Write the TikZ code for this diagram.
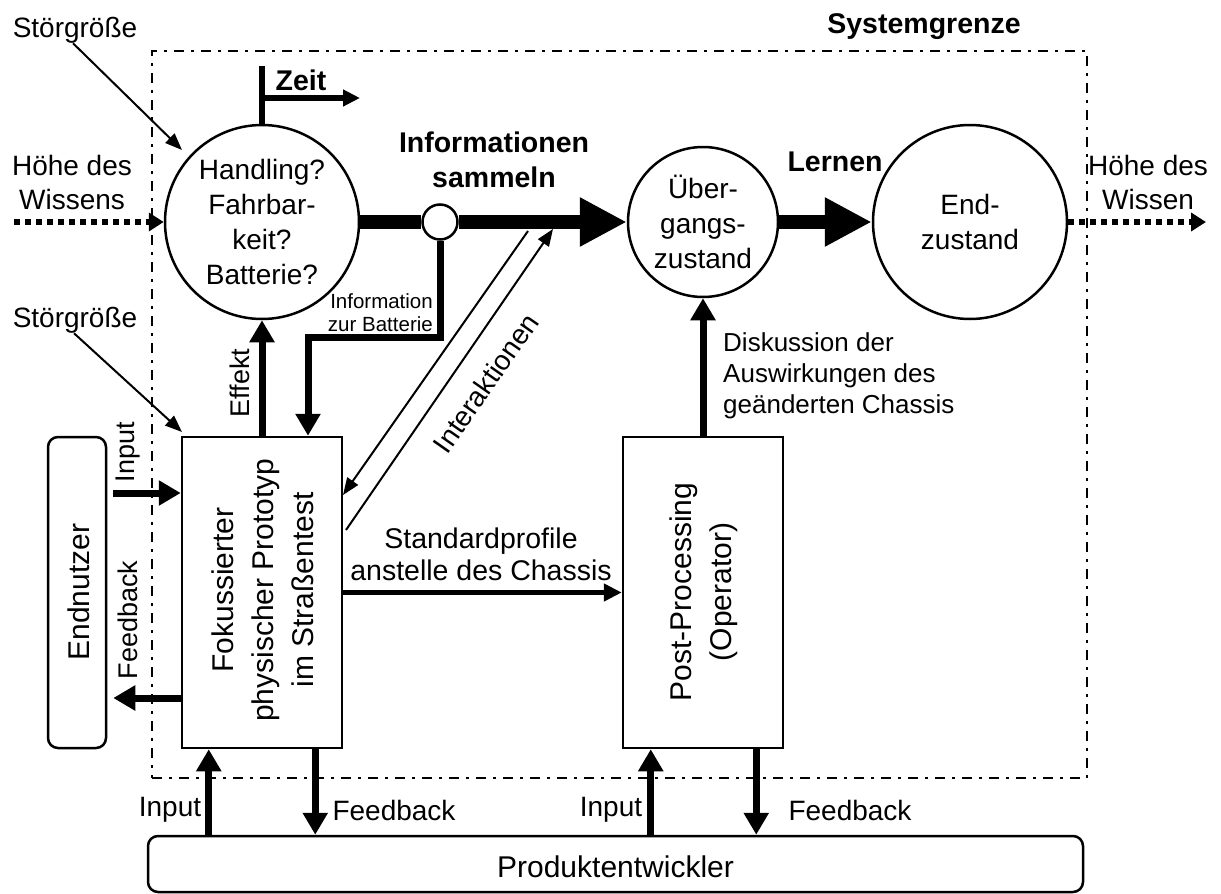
\documentclass[tikz,border=0pt]{standalone}
\usepackage{fontspec}
\setmainfont{Liberation Sans}
\usetikzlibrary{arrows.meta}

\tikzset{
  txt/.style={font=\fontsize{28}{34}\selectfont, inner sep=0pt, align=center},
  btxt/.style={txt, font=\fontsize{28.5}{35}\selectfont\bfseries},
  ctxt/.style={font=\fontsize{28}{35}\selectfont, align=center},
  vtxt/.style={font=\fontsize{30}{40}\selectfont, inner sep=0pt, align=center, rotate=90},
  vlbl/.style={txt, font=\fontsize{27}{32}\selectfont, rotate=90},
  smalltxt/.style={font=\fontsize{20.5}{23}\selectfont, inner sep=0pt, align=right},
  ring/.style={draw, circle, line width=2.5pt, inner sep=0pt, fill=white},
  blockbox/.style={draw, line width=2.5pt, minimum width=160pt, minimum height=311pt, inner sep=0pt},
  roundbox/.style={draw, line width=2.5pt, rounded corners=10pt, inner sep=0pt},
  heavy/.style={line width=7pt, line join=miter, -{Triangle[length=22pt,width=24pt]}},
  medium/.style={line width=5pt, -{Triangle[length=18pt,width=17pt]}},
  huge/.style={line width=14pt, -{Triangle[length=47pt,width=46pt]}},
  slim/.style={line width=2pt, -{Triangle[length=17pt,width=13pt]}},
  knowledge/.style={line width=6pt, dash pattern=on 6pt off 5pt, -{Triangle[length=15pt,width=18pt]}},
  boundary/.style={draw, line width=2.5pt, dash pattern=on 10pt off 7pt on 3pt off 7pt, inner sep=0pt}
}

\begin{document}
\begin{tikzpicture}[x=1pt, y=-1pt]
\useasboundingbox (0,0) rectangle (1221,894);

% system boundary
\node[boundary, minimum width=935pt, minimum height=727pt] (sysb) at (619.5,414.5) {};
\node[btxt] (sysbl) at (924,27) {Systemgrenze};

% states
\node[ring, minimum size=194pt, ctxt] (c1) at (262,222) {Handling?\\Fahrbar-\\keit?\\Batterie?};
\node[ring, minimum size=150pt, ctxt] (c2) at (703,222) {Über-\\gangs-\\zustand};
\node[ring, minimum size=194pt, ctxt] (c3) at (970,222) {End-\\zustand};
\node[ring, minimum size=35pt] (sc) at (440,222) {};

% blocks
\node[blockbox] (proto) at (262,592.5) {};
\node[vtxt] (protoT) at (263,590) {Fokussierter\\physischer Prototyp\\im Straßentest};
\node[blockbox] (post) at (703,592.5) {};
\node[vtxt] (postT) at (704,592) {Post-Processing\\(Operator)};
\node[roundbox, minimum width=58pt, minimum height=311pt] (user) at (77,592.5) {};
\node[vtxt] (userT) at (79,592) {Endnutzer};
\node[roundbox, minimum width=935pt, minimum height=56pt] (dev) at (615.5,864) {};
\node[txt, font=\fontsize{30}{34}\selectfont] (devT) at (615.5,867) {Produktentwickler};

% main knowledge flow
\draw[line width=14pt] (c1.east) -- (sc.west);
\draw[huge] (sc.east) -- (c2.west);
\draw[huge] (c2.east) -- (c3.west);
\node[btxt] (infoL) at (494,160) {Informationen\\sammeln};
\node[btxt] (lernL) at (835,162) {Lernen};

% knowledge level in and out
\coordinate (wIn) at (14,222);
\coordinate (wOut) at (1206,222);
\draw[knowledge] (wIn) -- (c1.west);
\draw[knowledge] (c3.east) -- (wOut);
\node[txt] (wInL) at (72,182) {Höhe des\\Wissens};
\node[txt] (wOutL) at (1148,182) {Höhe des\\Wissen};

% time axis
\coordinate (zeitTop) at (262,66);
\coordinate (zeitTip) at (360,98);
\draw[line width=6pt] (c1.north) -- (zeitTop);
\draw[line width=6pt, -{Triangle[length=17pt,width=16pt]}] ([xshift=-3pt]c1.north |- zeitTip) -- (zeitTip);
\node[btxt] (zeitL) at (301,80) {Zeit};

% disturbances
\node[txt] (st1) at (75,30) {Störgröße};
\node[txt] (st2) at (75,320) {Störgröße};
\coordinate (st1tip) at (182,150);
\coordinate (st2tip) at (182,432);
\draw[slim] ([xshift=-2pt]st1.south) -- (st1tip);
\draw[slim] ([xshift=-1pt]st2.south) -- (st2tip);

% effect and battery information
\draw[heavy] (proto.north) -- (c1.south);
\node[vlbl] (effL) at (240,383) {Effekt};
\coordinate (infoTurn) at (308,337);
\draw[heavy] (sc.south) |- (infoTurn) -- (infoTurn |- proto.north);
\node[smalltxt, anchor=east] (battL) at (433,313) {Information\\zur Batterie};

% interactions
\coordinate (iaA1) at (528,231);
\coordinate (iaA2) at (343,495);
\coordinate (iaB1) at (346,530);
\coordinate (iaB2) at (553,229);
\draw[slim] (iaA1) -- (iaA2);
\draw[slim] (iaB1) -- (iaB2);
\node[txt, rotate=55] (iaL) at (486,383) {Interaktionen};

% standard profiles
\draw[medium] (proto.east) -- (post.west);
\node[txt, font=\fontsize{28.5}{32}\selectfont] (stdL) at (481,554) {Standardprofile\\anstelle des Chassis};

% discussion
\draw[heavy] (post.north) -- (c2.south);
\node[txt, font=\fontsize{26}{31}\selectfont, anchor=west, align=left] (diskL) at (723,376) {Diskussion der\\Auswirkungen des\\geänderten Chassis};

% end user exchange
\coordinate (uIn) at (0,493);
\coordinate (uFb) at (0,698);
\draw[heavy] ([xshift=6pt]user.east |- uIn) -- (proto.west |- uIn);
\draw[heavy] (proto.west |- uFb) -- ([xshift=6pt]user.east |- uFb);
\node[vlbl] (uInL) at (128,452) {Input};
\node[vlbl] (uFbL) at (128,620) {Feedback};

% developer exchange
\path (proto.south west) ++(28,0) coordinate (pIn);
\path (proto.south east) ++(-28,0) coordinate (pFb);
\path (post.south west) ++(29,0) coordinate (qIn);
\path (post.south east) ++(-28,0) coordinate (qFb);
\draw[heavy] (pIn |- dev.north) -- (pIn);
\draw[heavy] (pFb) -- (pFb |- dev.north);
\draw[heavy] (qIn |- dev.north) -- (qIn);
\draw[heavy] (qFb) -- (qFb |- dev.north);
\node[txt] (pInL) at (170,810) {Input};
\node[txt] (pFbL) at (394,810) {Feedback};
\node[txt] (qInL) at (611,810) {Input};
\node[txt] (qFbL) at (850,810) {Feedback};
\end{tikzpicture}
\end{document}
